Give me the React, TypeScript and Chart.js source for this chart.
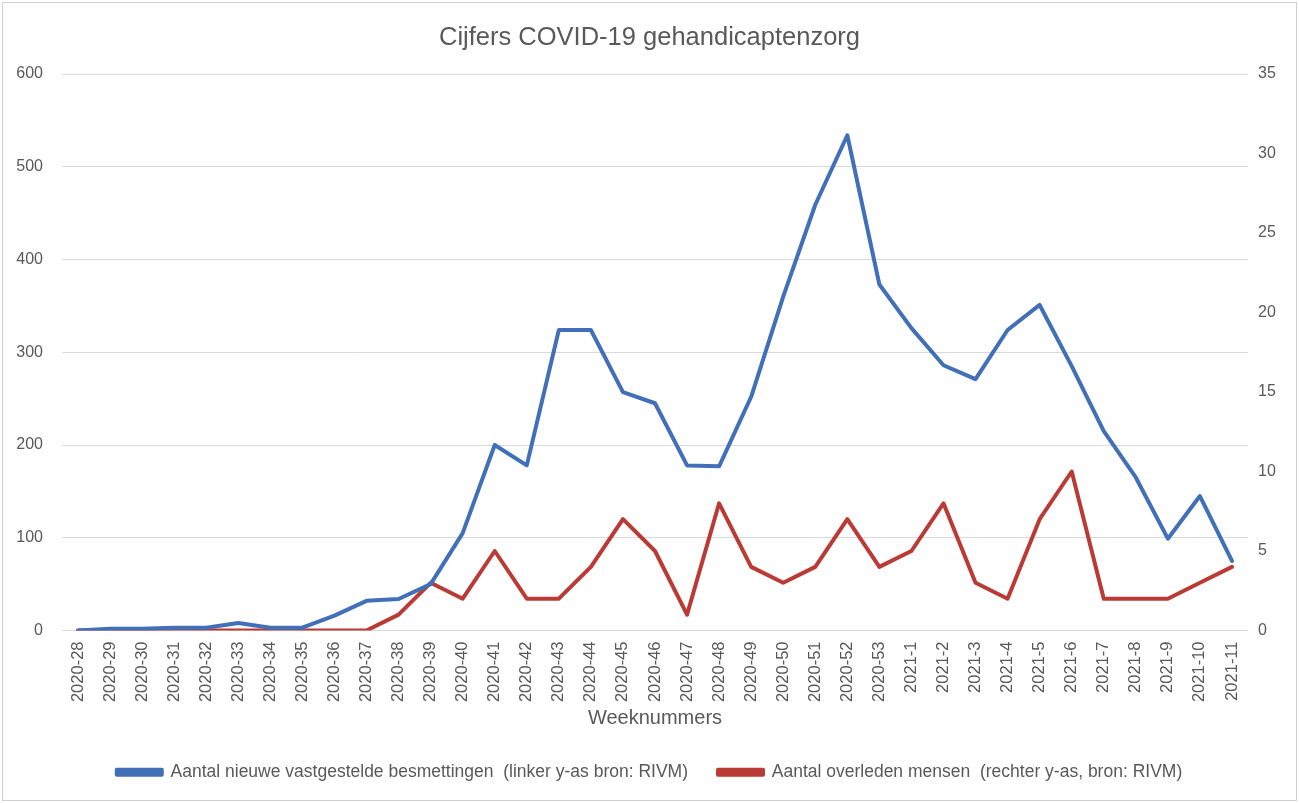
import React, { useEffect, useRef } from "react";
import { Chart, registerables } from "chart.js";

Chart.register(...registerables);

const weeks: string[] = [
  "2020-28", "2020-29", "2020-30", "2020-31", "2020-32", "2020-33", "2020-34", "2020-35",
  "2020-36", "2020-37", "2020-38", "2020-39", "2020-40", "2020-41", "2020-42", "2020-43",
  "2020-44", "2020-45", "2020-46", "2020-47", "2020-48", "2020-49", "2020-50", "2020-51",
  "2020-52", "2020-53", "2021-1", "2021-2", "2021-3", "2021-4", "2021-5", "2021-6",
  "2021-7", "2021-8", "2021-9", "2021-10", "2021-11",
];

const infections: number[] = [
  0, 2, 2, 3, 3, 8, 3, 3, 16, 32, 34, 50, 105, 200, 178, 324, 324, 257, 245, 178, 177, 252,
  360, 459, 534, 373, 326, 286, 271, 324, 351, 285, 215, 165, 99, 145, 75,
];

const deaths: number[] = [
  0, 0, 0, 0, 0, 0, 0, 0, 0, 0, 1, 3, 2, 5, 2, 2, 4, 7, 5, 1, 8, 4, 3, 4, 7, 4, 5, 8, 3, 2,
  7, 10, 2, 2, 2, 3, 4,
];

const titleText = "Cijfers COVID-19 gehandicaptenzorg";
const xTitle = "Weeknummers";
const labelInfections = "Aantal nieuwe vastgestelde besmettingen  (linker y-as bron: RIVM)";
const labelDeaths = "Aantal overleden mensen  (rechter y-as, bron: RIVM)";

const FONT = "'Liberation Sans', Arial, sans-serif";
const TEXT = "#595959";
const GRID = "#D9D9D9";
const BLUE = "#4170B8";
const RED = "#BA3B36";

const framePlugin = {
  id: "frame",
  beforeDraw(chart: any) {
    const ctx = chart.ctx;
    ctx.save();
    ctx.fillStyle = "#ffffff";
    ctx.fillRect(0, 0, chart.width, chart.height);
    ctx.strokeStyle = "#D0D0D0";
    ctx.lineWidth = 1;
    ctx.strokeRect(2.5, 2.5, chart.width - 5, chart.height - 5);
    ctx.restore();
  },
};

export default function App() {
  const ref = useRef<HTMLCanvasElement | null>(null);

  useEffect(() => {
    document.body.style.margin = "0";
    document.body.style.overflow = "hidden";
    if (!ref.current) return;
    const chart = new Chart(ref.current, {
      type: "line",
      data: {
        labels: weeks,
        datasets: [
          {
            label: labelInfections,
            data: infections,
            yAxisID: "y",
            borderColor: BLUE,
            backgroundColor: BLUE,
            borderWidth: 4,
            pointRadius: 0,
            tension: 0,
            borderJoinStyle: "round",
            borderCapStyle: "round",
          },
          {
            label: labelDeaths,
            data: deaths,
            yAxisID: "y1",
            borderColor: RED,
            backgroundColor: RED,
            borderWidth: 4,
            pointRadius: 0,
            tension: 0,
            borderJoinStyle: "round",
            borderCapStyle: "round",
          },
        ],
      },
      options: {
        animation: false,
        responsive: false,
        maintainAspectRatio: false,
        layout: { padding: { left: 0, right: 0, top: 0, bottom: 12 } },
        plugins: {
          title: {
            display: true,
            text: titleText,
            color: TEXT,
            font: { family: FONT, size: 25.5, weight: "normal" },
            padding: { top: 23, bottom: 20.4 },
          },
          legend: {
            display: true,
            position: "bottom",
            labels: {
              boxWidth: 45,
              boxHeight: 5,
              color: TEXT,
              font: { family: FONT, size: 17.5 },
              padding: 30,
            },
          },
          tooltip: { enabled: false },
        },
        scales: {
          x: {
            offset: true,
            grid: { display: false },
            border: { display: false },
            ticks: {
              autoSkip: false,
              maxRotation: 90,
              minRotation: 90,
              padding: 3,
              color: TEXT,
              font: { family: FONT, size: 16.5 },
            },
            title: {
              display: true,
              text: xTitle,
              color: TEXT,
              font: { family: FONT, size: 20 },
              padding: { top: 2, bottom: 3 },
            },
            afterFit: (scale: any) => {
              scale.height = 103;
            },
          },
          y: {
            position: "left",
            min: 0,
            max: 600,
            grid: { color: GRID, drawTicks: false, lineWidth: 1 },
            border: { display: false },
            ticks: {
              stepSize: 100,
              padding: 19,
              color: TEXT,
              font: { family: FONT, size: 16 },
            },
            afterFit: (scale: any) => {
              scale.width = 62;
            },
          },
          y1: {
            position: "right",
            min: 0,
            max: 35,
            grid: { display: false, drawTicks: false },
            border: { display: false },
            ticks: {
              stepSize: 5,
              padding: 10,
              color: TEXT,
              font: { family: FONT, size: 16 },
            },
            afterFit: (scale: any) => {
              scale.width = 51;
            },
          },
        },
      },
      plugins: [framePlugin],
    });
    return () => chart.destroy();
  }, []);

  return (
    <div style={{ width: 1299, height: 803, position: "relative" }}>
      <canvas ref={ref} width={1299} height={803} style={{ display: "block" }} />
    </div>
  );
}
